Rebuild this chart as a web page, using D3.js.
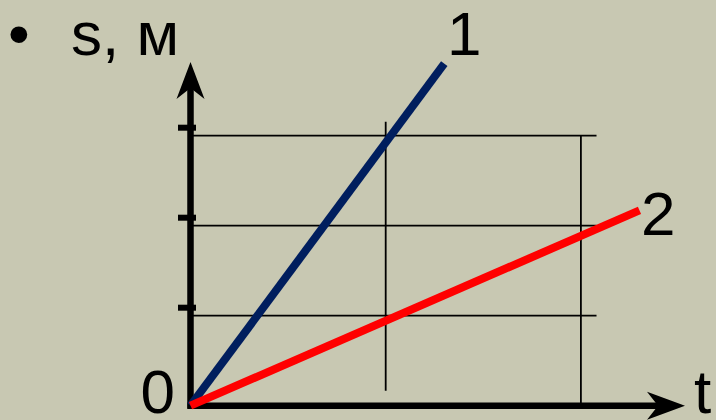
<!DOCTYPE html>
<html>
<head>
<meta charset="utf-8">
<script src="https://cdn.jsdelivr.net/npm/d3@7"></script>
<style>
  html, body { margin: 0; padding: 0; background: #c8c8b2; }
  svg { display: block; }
  text { font-family: "Liberation Sans", Arial, sans-serif; fill: #000; }
</style>
</head>
<body>
<svg id="chart" width="716" height="420"></svg>
<script>
// ---- data ----
const yAxisTitle = "s, м";
const xAxisTitle = "t";
const originLabel = "0";
const bulletChar = "•";
const sTicks = [1, 2, 3];           // tick marks / horizontal grid on s axis
const tGrid = [1, 2];               // vertical grid lines on t axis
const seriesNames = ["1", "2"];
const series1 = [[0, 0], [1.3, 3.8]];   // body 1: [t, s]
const series2 = [[0, 0], [2.3, 2.17]];  // body 2: [t, s]
const seriesColors = ["#001e5e", "#ff0000"];

// ---- layout ----
const svg = d3.select("#chart");
const x = d3.scaleLinear().domain([0, 2.5]).range([190.5, 190.5 + 2.5 * 195.2]);
const y = d3.scaleLinear().domain([0, 4]).range([405.7, 405.7 - 4 * 90]);

// grid
const g = svg.append("g").attr("stroke", "#000").attr("stroke-width", 1.8);
g.selectAll("line.h").data(sTicks).enter().append("line")
  .attr("x1", x(0)).attr("x2", x(2.08))
  .attr("y1", d => y(d)).attr("y2", d => y(d));
// vertical grid: first one floats, second reaches axis
g.append("line").attr("x1", x(tGrid[0])).attr("x2", x(tGrid[0]))
  .attr("y1", y(3.156)).attr("y2", y(0.167));
g.append("line").attr("x1", x(tGrid[1])).attr("x2", x(tGrid[1]))
  .attr("y1", y(3)).attr("y2", y(0));

// axes
const axW = 6.5;
svg.append("line").attr("x1", x(0)).attr("x2", x(0))
  .attr("y1", y(0) + 3).attr("y2", 80)
  .attr("stroke", "#000").attr("stroke-width", axW);
svg.append("line").attr("x1", x(0) - 3).attr("x2", 670)
  .attr("y1", y(0)).attr("y2", y(0))
  .attr("stroke", "#000").attr("stroke-width", axW);
// arrowheads
const ax = x(0);
svg.append("path")
  .attr("d", `M${ax},62 L${ax + 14},99 L${ax},88 L${ax - 14},99 Z`)
  .attr("fill", "#000");
const ay = y(0);
svg.append("path")
  .attr("d", `M685,${ay} L647,${ay - 14} L658,${ay} L647,${ay + 14} Z`)
  .attr("fill", "#000");
// tick marks (drawn slightly above grid lines as in the source)
svg.selectAll("rect.tick").data(sTicks).enter().append("rect")
  .attr("x", 178).attr("width", 18)
  .attr("y", d => y(d) - 8 - 3).attr("height", 6)
  .attr("fill", "#000");

// lines
const line = d3.line().x(d => x(d[0])).y(d => y(d[1]));
[series1, series2].forEach((s, i) => {
  svg.append("path").datum(s).attr("d", line)
    .attr("fill", "none").attr("stroke", seriesColors[i])
    .attr("stroke-width", 8).attr("stroke-linecap", "butt");
});

// labels
const fs = 62;
svg.append("text").attr("x", 447).attr("y", 55).attr("font-size", fs).text(seriesNames[0]);
svg.append("text").attr("x", 641).attr("y", 235).attr("font-size", fs).text(seriesNames[1]);
svg.append("text").attr("x", 140.5).attr("y", 412.5).attr("font-size", fs).text(originLabel);
svg.append("text").attr("x", 694).attr("y", 413).attr("font-size", fs).text(xAxisTitle);
svg.append("text").attr("x", 71).attr("y", 55).attr("font-size", fs).text(yAxisTitle);
svg.append("text").attr("x", 8).attr("y", 55).attr("font-size", fs).text(bulletChar);
</script>
</body>
</html>
